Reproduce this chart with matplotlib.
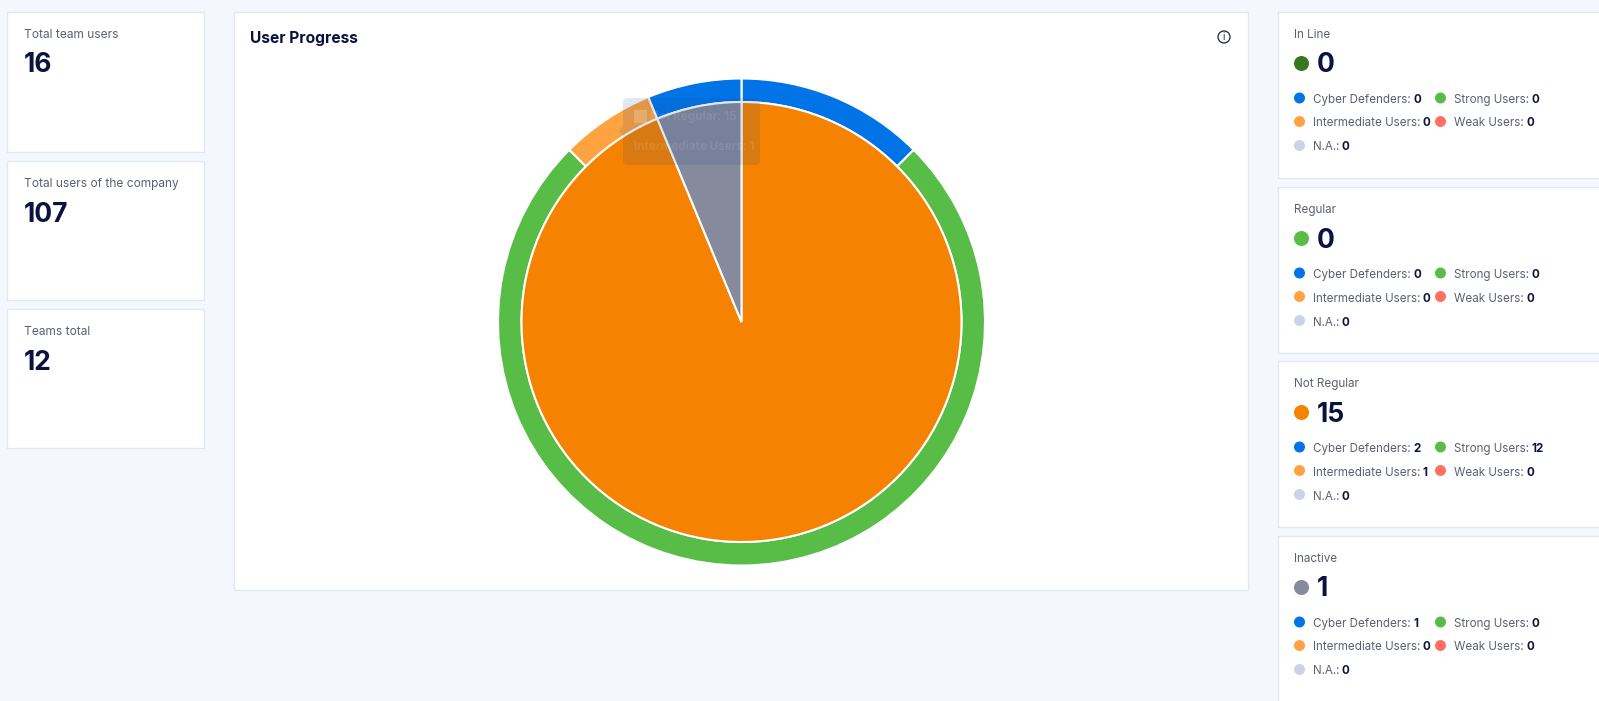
#!/usr/bin/env python3

import matplotlib
matplotlib.use('Agg')
import matplotlib.pyplot as plt
from matplotlib.patches import Circle, Rectangle, FancyBboxPatch, Polygon

plt.rcParams['font.family'] = ['Inter', 'DejaVu Sans']

W, H = 1599, 701

# left cards
kpi_labels = ['Total team users', 'Total users of the company', 'Teams total']
kpi_values = ['16', '107', '12']

# pie, clockwise from the top
inner_labels = ['Not Regular', 'Inactive']
inner_values = [15, 1]
outer_labels = ['Cyber Defenders', 'Strong Users', 'Intermediate Users', 'Cyber Defenders']
outer_values = [2, 12, 1, 1]

# right cards
status_names = ['In Line', 'Regular', 'Not Regular', 'Inactive']
status_totals = [0, 0, 15, 1]
cyber_defenders = [0, 0, 2, 1]
strong_users = [0, 0, 12, 0]
intermediate_users = [0, 0, 1, 0]
weak_users = [0, 0, 0, 0]
na_users = [0, 0, 0, 0]

BLUE = '#0073e6'
GREEN = '#58bd47'
ORANGE = '#f58200'
LIGHT_ORANGE = '#ffa340'
RED = '#ff7061'
NA = '#cdd2e8'
GREY = '#858a9c'
DARK_GREEN = '#38761f'
NAVY = '#0a1240'
TXT = '#5b6072'
BORDER = '#e3e8f0'
BG = '#f4f8fe'

status_colors = [DARK_GREEN, GREEN, ORANGE, GREY]
outer_colors = [BLUE, GREEN, LIGHT_ORANGE, BLUE]
inner_colors = [ORANGE, GREY]

fig = plt.figure(figsize=(W / 100, H / 100), dpi=100, facecolor=BG)

# page layer in pixel coordinates
ax = fig.add_axes([0, 0, 1, 1], zorder=0)
ax.set_xlim(0, W)
ax.set_ylim(H, 0)
ax.axis('off')


def card(a, x0, y0, x1, y1):
    a.add_patch(Rectangle((x0 - 1, y0 - 1), x1 - x0, y1 - y0, fc='white', ec=BORDER, lw=1.0))


def label_value(a, x, y, label, value):
    # value is bold and follows straight after the label, same baseline
    t = a.text(x, y, label + ':', fontsize=8.35, color=TXT, va='baseline', ha='left')
    bb = t.get_window_extent(fig.canvas.get_renderer())
    a.text(bb.x1 + 2.5, y, str(value), fontsize=8.35, color=NAVY, fontweight='bold', va='baseline', ha='left')


kpi_boxes = [(7.5, 12.5, 204.5, 152.5), (7.5, 161.5, 204.5, 300.5), (7.5, 309.5, 204.5, 448.5)]
for box, lab, val in zip(kpi_boxes, kpi_labels, kpi_values):
    card(ax, *box)
    ax.text(23.5, box[1] + 22.5, lab, fontsize=8.6, color=TXT, va='center', ha='left')
    ax.text(23.5, box[1] + 53, val, fontsize=19, color=NAVY, fontweight='bold', va='center', ha='left')

# main panel
card(ax, 234.5, 12.5, 1248.5, 590.5)
ax.text(250, 38.5, 'User Progress', fontsize=11.2, color=NAVY, fontweight='bold', va='center', ha='left')
ax.add_patch(Circle((1224, 37), 6, fc='none', ec='#1d2433', lw=0.9))
ax.text(1224, 37, 'i', fontsize=7, color='#1d2433', va='center', ha='center')

# status cards
card_tops = [12.5, 187.5, 361.5, 536.5]
for i, top in enumerate(card_tops):
    bottom = min(top + 166.5, H + 5)
    card(ax, 1278.5, top, W + 5, bottom)
    ax.text(1294, top + 22.5, status_names[i], fontsize=8.4, color=TXT, va='center', ha='left')
    ax.add_patch(Circle((1301.5, top + 51), 7.5, fc=status_colors[i], ec='none'))
    ax.text(1316.5, top + 53, str(status_totals[i]), fontsize=19, color=NAVY, fontweight='bold', va='center', ha='left')

    rows = [
        (1299.5, top + 85.5, cyber_defenders[i], 'Cyber Defenders', BLUE),
        (1440.5, top + 85.5, strong_users[i], 'Strong Users', GREEN),
        (1299.5, top + 109, intermediate_users[i], 'Intermediate Users', LIGHT_ORANGE),
        (1440.5, top + 109, weak_users[i], 'Weak Users', RED),
        (1299.5, top + 133, na_users[i], 'N.A.', NA),
    ]
    for x, y, v, name, c in rows:
        ax.add_patch(Circle((x, y), 5.5, fc=c, ec='none'))
        label_value(ax, x + 13.5, y + 5, name, v)

# nested pie
cx, cy, r_out, r_in = 741.5, 322, 243.5, 220
side = 2.5 * r_out
pie_ax = fig.add_axes([(cx - side / 2) / W, 1 - (cy + side / 2) / H, side / W, side / H], zorder=1)
pie_ax.pie(outer_values, radius=1, colors=outer_colors, startangle=90, counterclock=False,
           wedgeprops=dict(width=1 - r_in / r_out, edgecolor='white', linewidth=1.5))
pie_ax.pie(inner_values, radius=r_in / r_out, colors=inner_colors, startangle=90, counterclock=False,
           wedgeprops=dict(edgecolor='white', linewidth=1.5))
pie_ax.set_xlim(-1.25, 1.25)
pie_ax.set_ylim(-1.25, 1.25)
pie_ax.patch.set_visible(False)

# faded tooltip on top of the pie
top_ax = fig.add_axes([0, 0, 1, 1], zorder=2)
top_ax.set_xlim(0, W)
top_ax.set_ylim(H, 0)
top_ax.axis('off')
top_ax.patch.set_visible(False)
top_ax.add_patch(FancyBboxPatch((626, 101), 131, 61, boxstyle='round,pad=3,rounding_size=5',
                                fc='#1a4a8a', ec='none', alpha=0.13))
top_ax.add_patch(Polygon([(623, 126), (619, 131), (623, 136)], fc='#1a4a8a', ec='none', alpha=0.13))
top_ax.add_patch(Rectangle((634, 110), 13, 13, fc='white', ec='none', alpha=0.2))
top_ax.text(650, 117, 'Not Regular: 15', fontsize=8.4, color='#ffffff', alpha=0.1, va='center', ha='left', fontweight='bold')
top_ax.text(634, 147, 'Intermediate Users: 1', fontsize=8.4, color='#ffffff', alpha=0.1, va='center', ha='left', fontweight='bold')

fig.savefig('out.png', dpi=100, facecolor=BG)
